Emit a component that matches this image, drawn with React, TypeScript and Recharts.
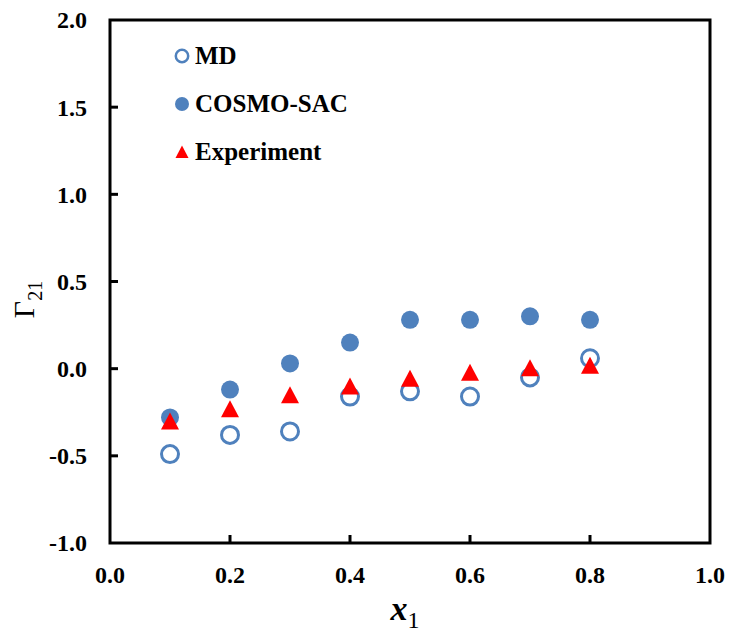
import { ScatterChart, Scatter, XAxis, YAxis, ReferenceArea, Legend, Label } from 'recharts'

// mole fraction of component 1
const xValues = [0.1, 0.2, 0.3, 0.4, 0.5, 0.6, 0.7, 0.8]
const mdValues = [-0.49, -0.38, -0.36, -0.16, -0.13, -0.16, -0.05, 0.06]
const cosmoValues = [-0.28, -0.12, 0.03, 0.15, 0.28, 0.28, 0.3, 0.28]
const expValues = [-0.3, -0.23, -0.15, -0.1, -0.055, -0.02, 0.005, 0.02]

const xTicks = [0, 0.2, 0.4, 0.6, 0.8, 1.0]
const yTicks = [-1.0, -0.5, 0.0, 0.5, 1.0, 1.5, 2.0]

const legendNames = ['MD', 'COSMO-SAC', 'Experiment']

const BLUE = '#4F81BD'
const RED = '#FF0000'
const FONT = '"Liberation Serif", "Times New Roman", serif'

const mdData = xValues.map((x, i) => ({ x, y: mdValues[i] }))
const cosmoData = xValues.map((x, i) => ({ x, y: cosmoValues[i] }))
const expData = xValues.map((x, i) => ({ x, y: expValues[i] }))

const OpenCircle = (p: any) => (
    <circle cx={p.cx} cy={p.cy} r={8.5} fill="none" stroke={BLUE} strokeWidth={3} />
)
const FilledCircle = (p: any) => <circle cx={p.cx} cy={p.cy} r={9} fill={BLUE} />
const Triangle = (p: any) => (
    <path d={`M${p.cx},${p.cy - 8.5} L${p.cx + 9},${p.cy + 8.5} L${p.cx - 9},${p.cy + 8.5} Z`} fill={RED} />
)

const YTick = (p: any) => {
    const v = p.payload.value
    const inner = v > -1 && v < 2
    return (
        <g>
            {inner && <line x1={p.x} x2={p.x + 8} y1={p.y} y2={p.y} stroke="#000" strokeWidth={3} />}
            <text x={p.x - 23} y={p.y} textAnchor="end" dy="0.35em" fontFamily={FONT} fontWeight="bold" fontSize={24} fill="#000">
                {v.toFixed(1)}
            </text>
        </g>
    )
}

const XTick = (p: any) => {
    const v = p.payload.value
    const inner = v > 0 && v < 1
    return (
        <g>
            {inner && <line x1={p.x} x2={p.x} y1={p.y} y2={p.y - 8} stroke="#000" strokeWidth={3} />}
            <text x={p.x} y={p.y + 32} textAnchor="middle" dy="0.35em" fontFamily={FONT} fontWeight="bold" fontSize={24} fill="#000">
                {v.toFixed(1)}
            </text>
        </g>
    )
}

const LegendMarker = ({ i }: { i: number }) => (
    <svg width={16} height={16} style={{ marginRight: 5 }}>
        {i === 0 && <circle cx={8} cy={8} r={6.2} fill="none" stroke={BLUE} strokeWidth={2.5} />}
        {i === 1 && <circle cx={8} cy={8} r={7} fill={BLUE} />}
        {i === 2 && <path d="M8,1.5 L14.5,14 L1.5,14 Z" fill={RED} />}
    </svg>
)

const renderLegend = () => (
    <div style={{ fontFamily: FONT, fontWeight: 'bold', fontSize: 25, color: '#000' }}>
        {legendNames.map((name, i) => (
            <div key={name} style={{ display: 'flex', alignItems: 'center', height: 48 }}>
                <LegendMarker i={i} />
                <span>{name}</span>
            </div>
        ))}
    </div>
)

export default function App() {
    return (
        <div style={{ position: 'absolute', left: 0, top: 0, background: '#fff' }}>
            <ScatterChart width={732} height={632} margin={{ top: 20, right: 22, bottom: 0, left: 0 }}>
                <XAxis
                    type="number"
                    dataKey="x"
                    domain={[0, 1]}
                    ticks={xTicks}
                    tick={<XTick />}
                    tickSize={0}
                    tickMargin={0}
                    tickLine={false}
                    axisLine={false}
                    height={89}
                    interval={0}
                >
                    <Label
                        content={(props: any) => {
                            const vb = props.viewBox
                            return (
                                <text x={vb.x + vb.width / 2 - 5} y={620} textAnchor="middle" fontFamily={FONT} fill="#000">
                                    <tspan fontSize={34} fontStyle="italic" fontWeight="bold">x</tspan>
                                    <tspan fontSize={24} dy={8}>1</tspan>
                                </text>
                            )
                        }}
                    />
                </XAxis>
                <YAxis
                    type="number"
                    dataKey="y"
                    domain={[-1, 2]}
                    ticks={yTicks}
                    tick={<YTick />}
                    tickSize={0}
                    tickMargin={0}
                    tickLine={false}
                    axisLine={false}
                    width={110}
                    interval={0}
                >
                    <Label
                        content={(props: any) => {
                            const vb = props.viewBox
                            return (
                                <text transform={`translate(34,${vb.y + vb.height / 2 + 18}) rotate(-90)`} textAnchor="middle" fontFamily={FONT} fill="#000">
                                    <tspan fontSize={30}>Γ</tspan>
                                    <tspan fontSize={20} dy={8}>21</tspan>
                                </text>
                            )
                        }}
                    />
                </YAxis>
                <ReferenceArea x1={0} x2={1} y1={-1} y2={2} fill="none" stroke="#000" strokeWidth={3} ifOverflow="visible" />
                <Scatter name="MD" data={mdData} shape={OpenCircle} isAnimationActive={false} />
                <Scatter name="COSMO-SAC" data={cosmoData} shape={FilledCircle} isAnimationActive={false} />
                <Scatter name="Experiment" data={expData} shape={Triangle} isAnimationActive={false} />
                <Legend
                    layout="vertical"
                    align="center"
                    verticalAlign="middle"
                    content={renderLegend}
                    wrapperStyle={{ top: 32, left: 174, width: 240 }}
                />
            </ScatterChart>
        </div>
    )
}
